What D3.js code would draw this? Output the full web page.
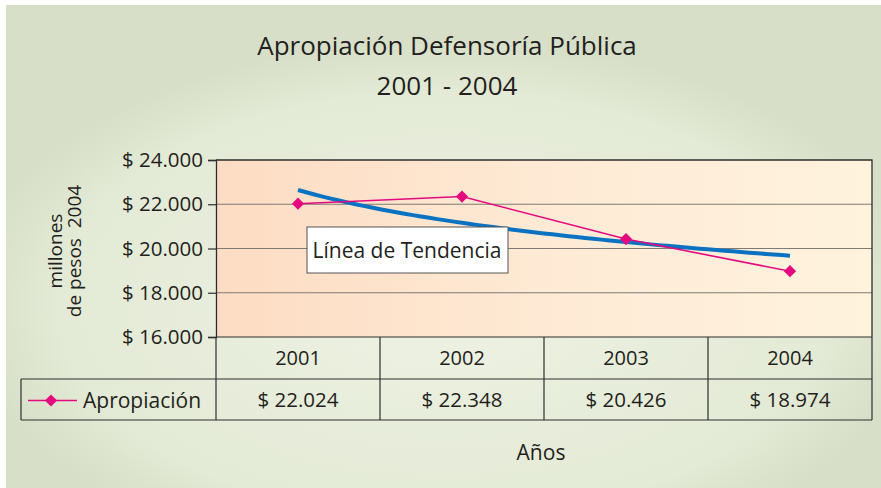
<!DOCTYPE html>
<html>
<head>
<meta charset="utf-8">
<script src="https://cdn.jsdelivr.net/npm/d3@7"></script>
<style>
  html, body { margin: 0; padding: 0; background: #fff; }
  svg { display: block; font-family: "Open Sans", "Noto Sans", sans-serif; }
</style>
</head>
<body>
<div id="chart"></div>
<script>
// Chart data
const years = ['2001', '2002', '2003', '2004'];
const apropiacion = [22024, 22348, 20426, 18974];
const yTicks = [16000, 18000, 20000, 22000, 24000];
const seriesName = 'Apropiación';
const titleLines = ['Apropiación Defensoría Pública', '2001 - 2004'];
const yTitleLines = ['millones', 'de pesos  2004'];
const xTitle = 'Años';
const trendLabel = 'Línea de Tendencia';

const width = 881;
const height = 488;

// Plot area
const plot = { left: 216, right: 872, top: 160, bottom: 337 };
const rowH = [42, 41]; // header row, data row
const legendLeft = 21;

const locale = d3.formatLocale({ decimal: ',', thousands: '.', grouping: [3], currency: ['$ ', ''] });
const fmt = v => '$ ' + locale.format(',.0f')(v);

const svg = d3.select('#chart')
  .append('svg')
  .attr('width', width)
  .attr('height', height)
  .attr('viewBox', [0, 0, width, height]);

const defs = svg.append('defs');

// Background: soft green with lighter elliptical centre
const bg = defs.append('radialGradient')
  .attr('id', 'bgGrad')
  .attr('cx', '0.5').attr('cy', '0.62')
  .attr('r', '0.55')
  .attr('fx', '0.5').attr('fy', '0.62');
bg.append('stop').attr('offset', '0%').attr('stop-color', '#eef2e4');
bg.append('stop').attr('offset', '80%').attr('stop-color', '#e3eAd5');
bg.append('stop').attr('offset', '100%').attr('stop-color', '#d7dfc8');

const plotGrad = defs.append('linearGradient').attr('id', 'plotGrad');
plotGrad.append('stop').attr('offset', '0%').attr('stop-color', '#fddcc3');
plotGrad.append('stop').attr('offset', '55%').attr('stop-color', '#feebd6');
plotGrad.append('stop').attr('offset', '100%').attr('stop-color', '#fff3de');

svg.append('rect')
  .attr('x', 6).attr('y', 5)
  .attr('width', width - 6).attr('height', height - 5)
  .attr('fill', '#d7dfc8');
svg.append('rect')
  .attr('x', 6).attr('y', 5)
  .attr('width', width - 6).attr('height', height - 5)
  .attr('fill', 'url(#bgGrad)');

// Scales
const x = d3.scaleBand().domain(years).range([plot.left, plot.right]).padding(0);
const y = d3.scaleLinear().domain([16000, 24000]).range([plot.bottom, plot.top]);
const cx = d => x(d) + x.bandwidth() / 2;

// Plot background
svg.append('rect')
  .attr('x', plot.left).attr('y', plot.top)
  .attr('width', plot.right - plot.left).attr('height', plot.bottom - plot.top)
  .attr('fill', 'url(#plotGrad)');

// Gridlines
svg.append('g')
  .selectAll('line')
  .data(yTicks.slice(1, -1))
  .join('line')
  .attr('x1', plot.left).attr('x2', plot.right)
  .attr('y1', d => y(d)).attr('y2', d => y(d))
  .attr('stroke', '#807a74')
  .attr('stroke-width', 1.2);

// Plot border (top, right)
svg.append('path')
  .attr('d', `M${plot.left},${plot.top}H${plot.right}V${plot.bottom}`)
  .attr('fill', 'none')
  .attr('stroke', '#2e2e2e')
  .attr('stroke-width', 1.3);

// Y axis
const yAxis = d3.axisLeft(y)
  .tickValues(yTicks)
  .tickSize(8)
  .tickPadding(5)
  .tickFormat(fmt);

const yG = svg.append('g')
  .attr('transform', `translate(${plot.left},0)`)
  .call(yAxis);
yG.select('.domain').attr('stroke', '#2e2e2e').attr('stroke-width', 1.3);
yG.selectAll('.tick line').attr('stroke', '#2e2e2e').attr('stroke-width', 1.2);
yG.selectAll('.tick text')
  .attr('fill', '#231f20')
  .style('font-size', '20.5px')
  .style('font-family', '"Open Sans", sans-serif');

// Y axis title
const yTitle = svg.append('text')
  .attr('transform', 'translate(0,251) rotate(-90)')
  .attr('text-anchor', 'middle')
  .attr('fill', '#231f20')
  .style('font-size', '19px');
yTitleLines.forEach((t, i) => {
  yTitle.append('tspan')
    .attr('x', 0)
    .attr('y', 62 + i * 19)
    .attr('xml:space', 'preserve')
    .text(t);
});

// Logarithmic trend line (least squares on ln x)
const lx = apropiacion.map((_, i) => Math.log(i + 1));
const mlx = d3.mean(lx);
const my = d3.mean(apropiacion);
const slope = d3.sum(lx, (v, i) => (v - mlx) * (apropiacion[i] - my)) / d3.sum(lx, v => (v - mlx) ** 2);
const intercept = my - slope * mlx;
const xi = d3.scaleLinear().domain([1, years.length]).range([cx(years[0]), cx(years[years.length - 1])]);
const trendPts = d3.range(1, years.length + 0.001, 0.05).map(t => [xi(t), y(intercept + slope * Math.log(t))]);

svg.append('path')
  .datum(trendPts)
  .attr('d', d3.line())
  .attr('fill', 'none')
  .attr('stroke', '#0a72c2')
  .attr('stroke-width', 4);

// Series line
const seriesColor = '#e5097f';
svg.append('path')
  .datum(apropiacion)
  .attr('d', d3.line().x((d, i) => cx(years[i])).y(d => y(d)))
  .attr('fill', 'none')
  .attr('stroke', seriesColor)
  .attr('stroke-width', 1.6);

const diamond = d3.symbol().type(d3.symbolDiamond2).size(95);
svg.append('g')
  .selectAll('path')
  .data(apropiacion)
  .join('path')
  .attr('d', diamond)
  .attr('transform', (d, i) => `translate(${cx(years[i])},${y(d)})`)
  .attr('fill', seriesColor);

// Trend label box
const lbl = svg.append('g').attr('transform', 'translate(307,227)');
lbl.append('rect')
  .attr('width', 201).attr('height', 46)
  .attr('fill', '#fff')
  .attr('stroke', '#555')
  .attr('stroke-width', 1);
lbl.append('text')
  .attr('x', 100).attr('y', 31)
  .attr('text-anchor', 'middle')
  .attr('fill', '#231f20')
  .style('font-size', '21px')
  .text(trendLabel);

// Data table
const row1 = plot.bottom + rowH[0];
const row2 = row1 + rowH[1];
const table = svg.append('g')
  .attr('stroke', '#2e2e2e')
  .attr('stroke-width', 1.2)
  .attr('fill', 'none');

table.append('line')
  .attr('x1', plot.left).attr('x2', plot.right)
  .attr('y1', plot.bottom).attr('y2', plot.bottom);
table.append('line')
  .attr('x1', legendLeft).attr('x2', plot.right)
  .attr('y1', row1).attr('y2', row1);
table.append('line')
  .attr('x1', legendLeft).attr('x2', plot.right)
  .attr('y1', row2).attr('y2', row2);
table.append('line')
  .attr('x1', legendLeft).attr('x2', legendLeft)
  .attr('y1', row1).attr('y2', row2);
table.selectAll('.vline')
  .data(years.map(d => x(d)).concat([plot.right]))
  .join('line')
  .attr('class', 'vline')
  .attr('x1', d => d).attr('x2', d => d)
  .attr('y1', plot.bottom).attr('y2', row2);

svg.append('g')
  .selectAll('text')
  .data(years)
  .join('text')
  .attr('x', d => cx(d))
  .attr('y', plot.bottom + rowH[0] / 2)
  .attr('dy', '0.35em')
  .attr('text-anchor', 'middle')
  .attr('fill', '#231f20')
  .style('font-size', '20px')
  .text(d => d);

svg.append('g')
  .selectAll('text')
  .data(apropiacion)
  .join('text')
  .attr('x', (d, i) => cx(years[i]))
  .attr('y', row1 + rowH[1] / 2)
  .attr('dy', '0.35em')
  .attr('text-anchor', 'middle')
  .attr('fill', '#231f20')
  .style('font-size', '20.5px')
  .text(d => fmt(d));

// Legend key inside table
const legY = row1 + rowH[1] / 2 + 1;
svg.append('line')
  .attr('x1', 28).attr('x2', 77)
  .attr('y1', legY).attr('y2', legY)
  .attr('stroke', seriesColor)
  .attr('stroke-width', 1.6);
svg.append('path')
  .attr('d', diamond)
  .attr('transform', `translate(51,${legY})`)
  .attr('fill', seriesColor);
svg.append('text')
  .attr('x', 83)
  .attr('y', legY)
  .attr('dy', '0.35em')
  .attr('fill', '#231f20')
  .style('font-size', '21px')
  .text(seriesName);

// X axis title
svg.append('text')
  .attr('x', 541)
  .attr('y', 460)
  .attr('text-anchor', 'middle')
  .attr('fill', '#231f20')
  .style('font-size', '21px')
  .text(xTitle);

// Chart title
svg.append('g')
  .selectAll('text')
  .data(titleLines)
  .join('text')
  .attr('x', 447)
  .attr('y', (d, i) => 55 + i * 40)
  .attr('text-anchor', 'middle')
  .attr('fill', '#231f20')
  .style('font-size', '26px')
  .text(d => d);
</script>
</body>
</html>
